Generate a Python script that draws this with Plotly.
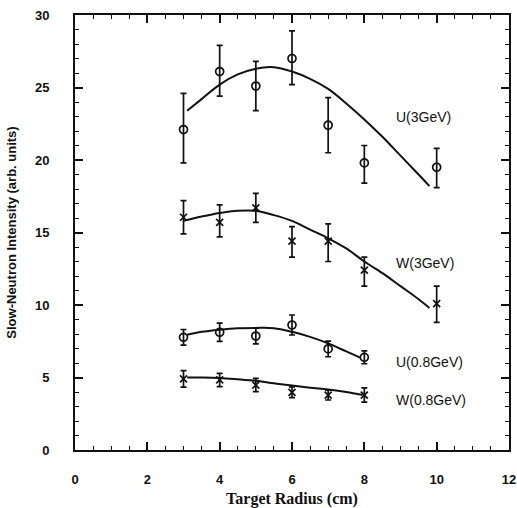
import plotly.graph_objects as go

# Data points
x_pts = [3, 4, 5, 6, 7, 8, 10]
x_pts08 = [3, 4, 5, 6, 7, 8]

u3_y = [22.1, 26.1, 25.1, 27.0, 22.4, 19.8, 19.5]
u3_up = [24.6, 27.9, 26.8, 28.9, 24.3, 21.0, 20.8]
u3_lo = [19.8, 24.4, 23.4, 25.2, 20.5, 18.4, 18.1]

w3_y = [16.05, 15.7, 16.7, 14.4, 14.4, 12.4, 10.1]
w3_up = [17.2, 16.9, 17.7, 15.4, 15.6, 13.3, 11.3]
w3_lo = [14.9, 14.7, 15.7, 13.3, 13.0, 11.3, 8.8]

u08_y = [7.77, 8.12, 7.86, 8.62, 6.97, 6.39]
u08_err = [0.54, 0.63, 0.54, 0.69, 0.54, 0.44]

w08_y = [4.9, 4.83, 4.48, 3.98, 3.79, 3.79]
w08_err = [0.57, 0.46, 0.46, 0.37, 0.34, 0.49]

# Fitted curves
u3_cx = [3.1, 3.5, 4, 4.5, 5, 5.5, 6, 6.5, 7, 7.5, 8, 8.5, 9, 9.5, 9.8]
u3_cy = [23.4, 24.2, 25.2, 25.9, 26.3, 26.4, 26.1, 25.6, 24.9, 23.9, 22.8, 21.6, 20.3, 19.0, 18.2]

w3_cx = [3.0, 3.5, 4, 4.5, 5, 5.5, 6, 6.5, 7, 7.5, 8, 8.5, 9, 9.5, 9.8]
w3_cy = [15.8, 16.1, 16.35, 16.5, 16.5, 16.2, 15.8, 15.2, 14.6, 13.9, 13.0, 12.2, 11.3, 10.4, 9.8]

u08_cx = [3.1, 3.5, 4, 4.5, 5, 5.5, 6, 6.5, 7, 7.5, 7.9]
u08_cy = [7.95, 8.15, 8.3, 8.4, 8.42, 8.4, 8.15, 7.8, 7.35, 6.8, 6.35]

w08_cx = [3.1, 3.5, 4, 4.5, 5, 5.5, 6, 6.5, 7, 7.5, 7.95]
w08_cy = [5.0, 5.0, 4.97, 4.88, 4.77, 4.6, 4.45, 4.3, 4.17, 4.0, 3.8]

labels = ["U(3GeV)", "W(3GeV)", "U(0.8GeV)", "W(0.8GeV)"]
label_x = [8.83, 8.83, 8.83, 8.83]
label_y = [23.0, 12.9, 6.1, 3.45]

INK = "#111111"
fig = go.Figure()

for cx, cy in [(u3_cx, u3_cy), (w3_cx, w3_cy), (u08_cx, u08_cy), (w08_cx, w08_cy)]:
    fig.add_trace(go.Scatter(x=cx, y=cy, mode="lines",
                             line=dict(color=INK, width=2, shape="spline", smoothing=1.0),
                             showlegend=False, hoverinfo="skip"))

def err_trace(x, y, up, lo, symbol, size):
    plus = [u - v for u, v in zip(up, y)]
    minus = [v - l for v, l in zip(y, lo)]
    return go.Scatter(x=x, y=y, mode="markers",
                      marker=dict(symbol=symbol, size=size, color=INK,
                                  line=dict(color=INK, width=1.7)),
                      error_y=dict(type="data", symmetric=False, array=plus,
                                   arrayminus=minus, color=INK, thickness=1.7, width=3),
                      showlegend=False)

fig.add_trace(err_trace(x_pts, u3_y, u3_up, u3_lo, "circle-open", 8))
fig.add_trace(err_trace(x_pts, w3_y, w3_up, w3_lo, "x-thin-open", 7))
fig.add_trace(err_trace(x_pts08, u08_y,
                        [y + e for y, e in zip(u08_y, u08_err)],
                        [y - e for y, e in zip(u08_y, u08_err)], "circle-open", 8))
fig.add_trace(err_trace(x_pts08, w08_y,
                        [y + e for y, e in zip(w08_y, w08_err)],
                        [y - e for y, e in zip(w08_y, w08_err)], "x-thin-open", 7))

for t, lx, ly in zip(labels, label_x, label_y):
    fig.add_annotation(x=lx, y=ly, text=t, showarrow=False, xanchor="left",
                       yanchor="middle",
                       font=dict(family="Liberation Sans, Arial, sans-serif", size=14, color=INK))

axis_common = dict(showline=True, linecolor=INK, linewidth=2, mirror="ticks",
                   ticks="inside", ticklen=8, tickwidth=1.5, tickcolor=INK,
                   showgrid=False, zeroline=False,
                   tickfont=dict(family="Liberation Sans, Arial, sans-serif", size=13,
                                 color=INK, weight="bold"))

fig.update_xaxes(range=[0, 12], tickmode="linear", tick0=0, dtick=2,
                 minor=dict(dtick=0.5, ticks="inside", ticklen=4, tickcolor=INK, tickwidth=1.2),
                 ticklabelstandoff=16,
                 title=dict(text="Target Radius (cm)", standoff=9,
                            font=dict(family="Liberation Serif, Times New Roman, serif",
                                      size=16, color=INK, weight="bold")),
                 **axis_common)
fig.update_yaxes(range=[0, 30], tickmode="linear", tick0=0, dtick=5,
                 minor=dict(dtick=1, ticks="inside", ticklen=4, tickcolor=INK, tickwidth=1.2),
                 ticklabelstandoff=21,
                 title=dict(text="Slow-Neutron Intensity (arb. units)", standoff=15,
                            font=dict(family="Liberation Sans, Arial, sans-serif",
                                      size=13, color=INK, weight="bold")),
                 **axis_common)

fig.update_layout(width=517, height=508, plot_bgcolor="white", paper_bgcolor="white",
                  margin=dict(l=75, r=8, t=15, b=58, autoexpand=False))

fig.write_html("out.html")
